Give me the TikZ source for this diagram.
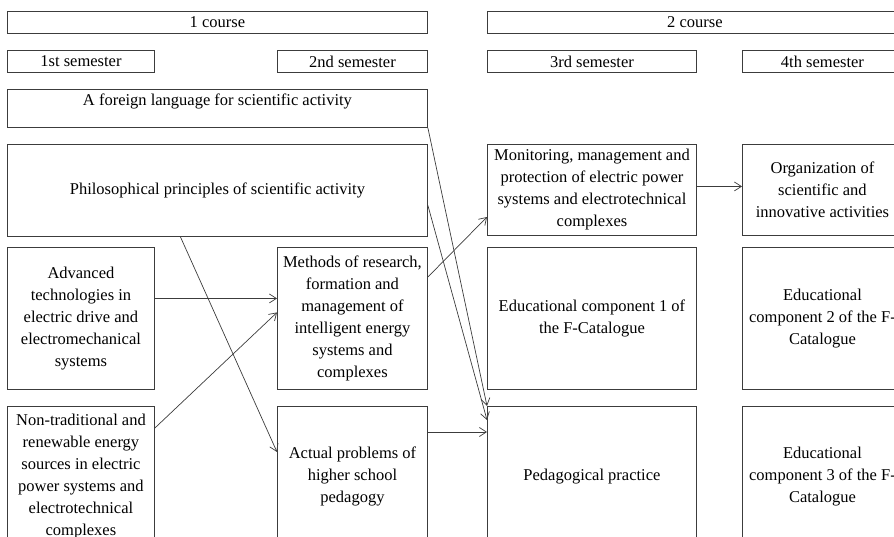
\documentclass[tikz,border=0pt]{standalone}
\usepackage{fontspec}
\setmainfont{Liberation Serif}
\definecolor{myline}{RGB}{60,60,60}
\usetikzlibrary{positioning,calc,arrows.meta}

\begin{document}
\begin{tikzpicture}[x=1pt,y=-1pt,
  every node/.style={draw=myline,line width=0.9pt,rectangle,anchor=north west,
    align=center,inner sep=2pt,font=\fontsize{16.5}{22}\selectfont},
  headbox/.style={minimum height=22pt},
  subjbox/.style={minimum width=#1},
  link/.style={->,line width=0.7pt,draw=myline},
  >={Straight Barb[length=7pt,width=9pt]}
]
\useasboundingbox (0,0) rectangle (894,537);
\clip (0,0) rectangle (894,537);

% Courses
\node[headbox,minimum width=420pt] (c1) at (7,11) {1 course};
\node[headbox,minimum width=415pt] (c2) at (487,11) {2 course};

% Semesters
\foreach \i/\x/\w/\t in {1/7/147pt/1st,2/277/150pt/2nd,3/487/209pt/3rd,4/742/160pt/4th}
  \node[headbox,minimum width=\w] (s\i) at (\x,50) {\t\ semester};

% First course
\node[subjbox=420pt,minimum height=38pt,inner ysep=4pt,text height=12pt,text depth=18pt]
  (lang) at (7,89) {A foreign language for scientific activity};
\node[subjbox=420pt,minimum height=92pt] (phil) at (7,144)
  {Philosophical principles of scientific activity};
\node[subjbox=147pt,minimum height=142pt] (adv) at (7,247)
  {Advanced\\technologies in\\electric drive and\\electromechanical\\systems};
\node[subjbox=150pt,minimum height=142pt] (meth) at (277,247)
  {Methods of research,\\formation and\\management of\\intelligent energy\\systems and\\complexes};
\node[subjbox=147pt,minimum height=140pt] (nontr) at (7,406)
  {Non-traditional and\\renewable energy\\sources in electric\\power systems and\\electrotechnical\\complexes};
\node[subjbox=150pt,minimum height=140pt] (act) at (277,406)
  {Actual problems of\\higher school\\pedagogy};

% Second course
\node[subjbox=209pt,minimum height=91pt] (mon) at (487,144)
  {Monitoring, management and\\protection of electric power\\systems and electrotechnical\\complexes};
\node[subjbox=160pt,minimum height=91pt] (org) at (742,144)
  {Organization of\\scientific and\\innovative activities};
\node[subjbox=209pt,minimum height=142pt] (ed1) at (487,247)
  {Educational component 1 of\\the F-Catalogue};
\node[subjbox=160pt,minimum height=142pt] (ed2) at (742,247)
  {Educational\\component 2 of the F-\\Catalogue};
\node[subjbox=209pt,minimum height=140pt] (ped) at (487,406)
  {Pedagogical practice};
\node[subjbox=160pt,minimum height=140pt] (ed3) at (742,406)
  {Educational\\component 3 of the F-\\Catalogue};

% Edges
\draw[link] (lang.south east) -- (ped.north west);
\draw[link] ([yshift=-15pt]phil.east) -- ([yshift=-14pt]ped.north west);
\draw[link] ([xshift=-37pt]phil.south) -- ([yshift=-46pt]act.north west);
\draw[link] ([yshift=20pt]adv.east) -- ([yshift=20pt]meth.west);
\draw[link] ([yshift=-22pt]nontr.north east) -- ([yshift=6pt]meth.west);
\draw[link] ([yshift=-30pt]meth.north east) -- ([yshift=-73pt]mon.north west);
\draw[link] ([yshift=3.5pt]mon.east) -- ([yshift=3.5pt]org.west);
\draw[link] ([yshift=-26pt]act.north east) -- ([yshift=-26pt]ped.north west);
\end{tikzpicture}
\end{document}
